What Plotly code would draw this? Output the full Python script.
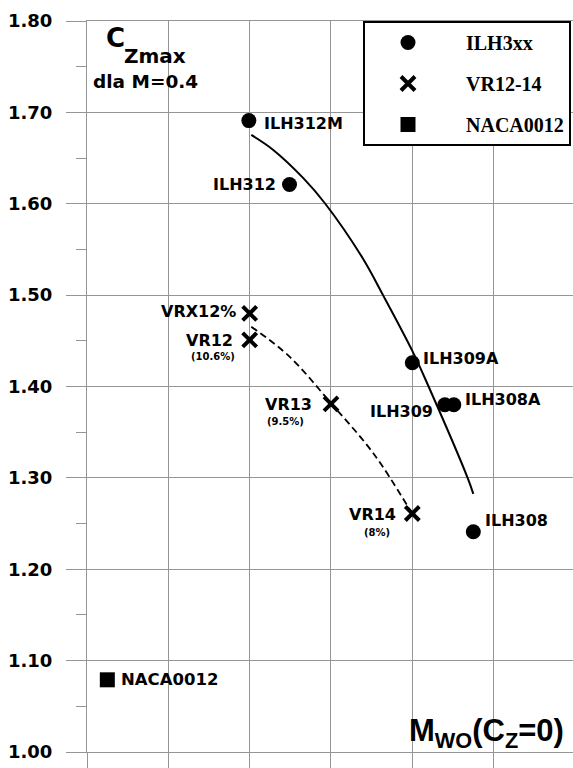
import plotly.graph_objects as go

# ---------------- data ----------------
ilh_names = ["ILH312M", "ILH312", "ILH309A", "ILH309", "ILH308A", "ILH308"]
ilh_x = [0.7399, 0.7449, 0.7600, 0.7640, 0.7651, 0.7675]
ilh_y = [1.691, 1.621, 1.426, 1.380, 1.380, 1.241]

vr_names = ["VRX12%", "VR12", "VR13", "VR14"]
vr_notes = ["", "(10.6%)", "(9.5%)", "(8%)"]
vr_x = [0.7400, 0.7400, 0.7500, 0.7600]
vr_y = [1.480, 1.451, 1.381, 1.261]

naca_names = ["NACA0012"]
naca_x = [0.7225]
naca_y = [1.079]

# trend curves
ilh_fit_x = [0.7402, 0.7429, 0.7466, 0.7493, 0.7539, 0.7564, 0.7600, 0.7620, 0.7668, 0.7675]
ilh_fit_y = [1.6753, 1.6589, 1.6280, 1.6000, 1.5404, 1.5000, 1.4390, 1.4000, 1.3000, 1.2825]
vr_fit_x = [0.7402, 0.7449, 0.7500, 0.7552, 0.7597]
vr_fit_y = [1.4655, 1.4327, 1.3817, 1.3270, 1.2650]

y_ticks = [1.0, 1.1, 1.2, 1.3, 1.4, 1.5, 1.6, 1.7, 1.8]
legend_names = ["ILH3xx", "VR12-14", "NACA0012"]

# ---------------- layout geometry ----------------
W, H = 573, 768
L, T, B, R = 87, 21, 16, 0
PW, PH = W - L - R, H - T - B
X0, PX_PER_UNIT = 0.72, 8133.0
X1 = X0 + PW / PX_PER_UNIT


def paper_x(px):
    return (px - L) / PW


def paper_y(py):
    return 1 - (py - T) / PH


SANS = "DejaVu Sans"
ARIAL = "Liberation Sans"
SERIF = "Liberation Serif"
GRID = "#959595"
LEAD = "&nbsp;" * 3

fig = go.Figure()

fig.add_trace(go.Scatter(x=ilh_fit_x, y=ilh_fit_y, mode="lines", line=dict(color="black", width=2, shape="spline"),
                         showlegend=False, hoverinfo="skip"))
fig.add_trace(go.Scatter(x=vr_fit_x, y=vr_fit_y, mode="lines",
                         line=dict(color="black", width=1.8, dash="7px,4px", shape="spline"),
                         showlegend=False, hoverinfo="skip"))

fig.add_trace(go.Scatter(x=ilh_x, y=ilh_y, mode="markers", name=LEAD + legend_names[0], legendgroup="a",
                         marker=dict(symbol="circle", size=15, color="black")))
fig.add_trace(go.Scatter(x=vr_x, y=vr_y, mode="markers", name=LEAD + legend_names[1], legendgroup="b",
                         marker=dict(symbol="x-thin", size=14, color="black", line=dict(color="black", width=4))))
fig.add_trace(go.Scatter(x=naca_x, y=naca_y, mode="markers", name=LEAD + legend_names[2], legendgroup="c",
                         marker=dict(symbol="square", size=15, color="black")))

lab_font = dict(family=SANS, size=16, color="black", weight="bold")
small_font = dict(family=SANS, size=10, color="black", weight="bold")

# ILH labels: (xanchor, xshift, yshift)
ilh_pos = [("left", 13, -3), ("right", -12, 0), ("left", 9, 4), ("right", -10, -7), ("left", 9, 5), ("left", 10, 11)]
for n, x, y, (xa, xs, ys) in zip(ilh_names, ilh_x, ilh_y, ilh_pos):
    fig.add_annotation(x=x, y=y, text=n, showarrow=False, xanchor=xa, yanchor="middle",
                       xshift=xs, yshift=ys, font=lab_font)

vr_pos = [(-12, 2), (-15, -1), (-17, -1), (-14, -1)]
vr_note_pos = [(0, 0), (-13, -17), (-25, -18), (-20, -19)]
for n, note, x, y, (xs, ys), (nxs, nys) in zip(vr_names, vr_notes, vr_x, vr_y, vr_pos, vr_note_pos):
    fig.add_annotation(x=x, y=y, text=n, showarrow=False, xanchor="right", yanchor="middle",
                       xshift=xs, yshift=ys, font=lab_font)
    if note:
        fig.add_annotation(x=x, y=y, text=note, showarrow=False, xanchor="right", yanchor="middle",
                           xshift=nxs, yshift=nys, font=small_font)

for n, x, y in zip(naca_names, naca_x, naca_y):
    fig.add_annotation(x=x, y=y, text=n, showarrow=False, xanchor="left", yanchor="middle",
                       xshift=12, yshift=0, font=dict(family=SANS, size=16.5, color="black", weight="bold"))

# title texts
fig.add_annotation(xref="paper", yref="paper", x=paper_x(104), y=paper_y(38), text="C", showarrow=False,
                   xanchor="left", yanchor="middle", font=dict(family=SANS, size=26, color="black", weight="bold"))
fig.add_annotation(xref="paper", yref="paper", x=paper_x(122), y=paper_y(56), text="Zmax", showarrow=False,
                   xanchor="left", yanchor="middle", font=dict(family=SANS, size=20, color="black", weight="bold"))
fig.add_annotation(xref="paper", yref="paper", x=paper_x(91), y=paper_y(82), text="dla M=0.4", showarrow=False,
                   xanchor="left", yanchor="middle", font=dict(family=SANS, size=18.5, color="black", weight="bold"))
fig.add_annotation(xref="paper", yref="paper", x=paper_x(566), y=paper_y(733),
                   text="M<sub>WO</sub>(C<sub>Z</sub>=0)",
                   showarrow=False, xanchor="right", yanchor="middle",
                   font=dict(family=ARIAL, size=31, color="black", weight="bold"))

fig.update_layout(
    width=W, height=H,
    margin=dict(l=L, r=R, t=T, b=B, pad=0, autoexpand=False),
    paper_bgcolor="white", plot_bgcolor="white",
    showlegend=True,
    legend=dict(x=paper_x(363), y=1.0, xanchor="left", yanchor="top",
                bgcolor="white", bordercolor="black", borderwidth=2,
                font=dict(family=SERIF, size=20, color="black", weight="bold"),
                tracegroupgap=12, itemwidth=76),
    xaxis=dict(range=[X0, X1], tick0=X0, dtick=0.01, showticklabels=False,
               showgrid=True, gridcolor=GRID, gridwidth=1, zeroline=False,
               showline=True, linecolor=GRID, linewidth=1, mirror=True,
               ticks="outside", ticklen=18, tickcolor=GRID, tickwidth=1),
    yaxis=dict(range=[1.0, 1.8], tickvals=y_ticks, tickformat=".2f",
               showgrid=True, gridcolor=GRID, gridwidth=1, zeroline=False,
               showline=True, linecolor=GRID, linewidth=1,
               ticks="outside", ticklen=20, tickcolor=GRID, tickwidth=1,
               ticklabelstandoff=10,
               tickfont=dict(family=SANS, size=18, color="black", weight="bold"),
               minor=dict(dtick=0.05, tick0=1.0, ticks="outside", ticklen=10, tickcolor=GRID, showgrid=False)),
)

fig.write_html("out.html", config={"displayModeBar": False},
               post_script="document.body.style.margin='0px';document.body.style.overflow='hidden';")
